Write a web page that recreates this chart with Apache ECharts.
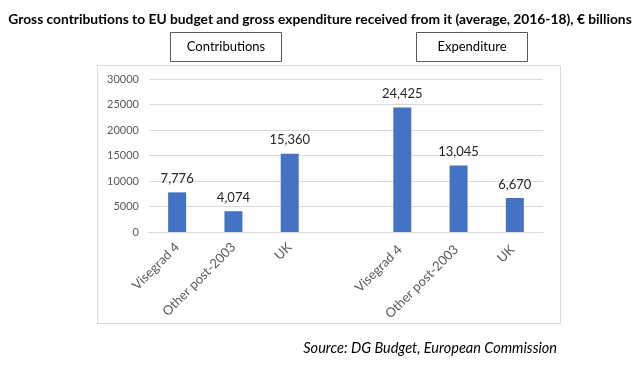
<!DOCTYPE html>
<html><head><meta charset="utf-8">
<script src="https://cdn.jsdelivr.net/npm/echarts@6/dist/echarts.min.js"></script>
<style>html,body{margin:0;padding:0;background:#fff}#c{width:640px;height:374px}</style>
</head><body><div id="c"></div>
<script>
var titleText = 'Gross contributions to EU budget and gross expenditure received from it (average, 2016-18), € billions';
var sourceText = 'Source: DG Budget, European Commission';
var groupNames = ['Contributions', 'Expenditure'];
var categories = ['Visegrad 4', 'Other post-2003', 'UK', ' ', 'Visegrad 4 ', 'Other post-2003 ', 'UK '];
var contributions = [7776, 4074, 15360];
var expenditure = [24425, 13045, 6670];
var yTicks = [0, 5000, 10000, 15000, 20000, 25000, 30000];

var values = contributions.concat([null], expenditure);
var font = 'Lato, "Open Sans", sans-serif';
var chart = echarts.init(document.getElementById('c'), null, {renderer: 'canvas'});
chart.setOption({
  animation: false,
  textStyle: {fontFamily: font},
  title: {
    text: titleText, left: 'center', top: 8,
    textStyle: {fontFamily: font, fontWeight: 'bold', fontSize: 13.8, color: '#000'}
  },
  graphic: [
    {type: 'rect', shape: {x: 97.5, y: 65.5, width: 463, height: 258}, style: {fill: 'none', stroke: '#d9d9d9', lineWidth: 1}, z: -1},
    {type: 'rect', shape: {x: 170.5, y: 32.5, width: 111, height: 29}, style: {fill: '#fff', stroke: '#595959', lineWidth: 1}},
    {type: 'text', x: 226, y: 47, style: {text: groupNames[0], font: '13px ' + font, fill: '#000', textAlign: 'center', textVerticalAlign: 'middle'}},
    {type: 'rect', shape: {x: 416.5, y: 32.5, width: 111, height: 29}, style: {fill: '#fff', stroke: '#595959', lineWidth: 1}},
    {type: 'text', x: 472, y: 47, style: {text: groupNames[1], font: '13px ' + font, fill: '#000', textAlign: 'center', textVerticalAlign: 'middle'}},
    {type: 'text', x: 557, y: 348, style: {text: sourceText, font: 'italic 14.5px ' + font, fill: '#000', textAlign: 'right', textVerticalAlign: 'middle'}}
  ],
  grid: {left: 149, right: 97, top: 79, bottom: 142},
  xAxis: {
    type: 'category', data: categories,
    axisLine: {lineStyle: {color: '#d9d9d9'}},
    axisTick: {show: false},
    axisLabel: {rotate: 45, interval: 0, color: '#595959', fontSize: 13, margin: 13, fontFamily: font}
  },
  yAxis: {
    type: 'value', min: yTicks[0], max: yTicks[yTicks.length - 1], interval: 5000,
    axisLine: {show: false}, axisTick: {show: false},
    splitLine: {lineStyle: {color: '#d9d9d9'}},
    axisLabel: {color: '#595959', fontSize: 11, margin: 10, fontFamily: font,
      formatter: function (v) { return String(v); }}
  },
  series: [{
    type: 'bar', data: values, barWidth: 18,
    itemStyle: {color: '#4472c4'},
    label: {
      show: true, position: 'top', distance: 7, color: '#262626', fontSize: 13, fontFamily: font,
      formatter: function (p) { return p.value == null ? '' : p.value.toLocaleString('en-US'); }
    }
  }]
});
</script>
</body></html>
